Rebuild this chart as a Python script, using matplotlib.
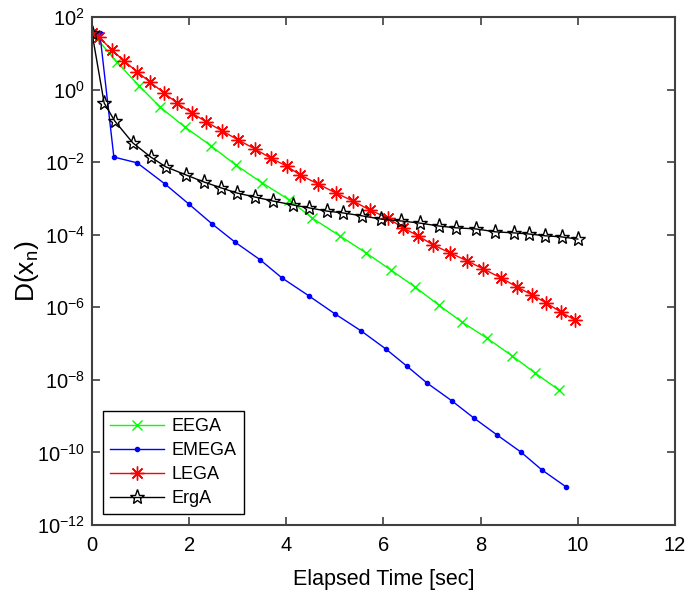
import matplotlib
matplotlib.use('Agg')
import matplotlib.pyplot as plt
import numpy as np

plt.rcParams['font.family'] = ['Liberation Sans', 'DejaVu Sans']
plt.rcParams['mathtext.fontset'] = 'custom'
plt.rcParams['mathtext.rm'] = 'Liberation Sans'

# elapsed time [sec] and log10 of D(x_n)
eega_t = [0.0, 0.51, 0.97, 1.40, 1.91, 2.45, 2.96, 3.50, 4.06, 4.53, 5.10, 5.64,
          6.15, 6.65, 7.14, 7.62, 8.13, 8.65, 9.12, 9.61]
eega_log = [1.56, 0.76, 0.10, -0.48, -1.03, -1.55, -2.08, -2.57, -3.04, -3.54, -4.03,
            -4.50, -4.97, -5.44, -5.94, -6.41, -6.85, -7.34, -7.81, -8.28]

emega_t = [0.0, 0.16, 0.45, 0.93, 1.50, 1.99, 2.47, 2.94, 3.46, 3.91, 4.47, 5.00,
           5.54, 6.05, 6.48, 6.90, 7.41, 7.86, 8.34, 8.83, 9.26, 9.76]
emega_log = [1.56, 1.56, -1.86, -2.02, -2.60, -3.15, -3.70, -4.20, -4.69, -5.19, -5.69,
             -6.18, -6.65, -7.15, -7.62, -8.09, -8.58, -9.05, -9.52, -9.99, -10.48, -10.95]

lega_t = [0.0, 0.14, 0.41, 0.66, 0.93, 1.19, 1.48, 1.75, 2.06, 2.35, 2.68, 3.01, 3.36,
          3.68, 4.01, 4.28, 4.65, 5.02, 5.37, 5.72, 6.09, 6.40, 6.71, 7.02, 7.37, 7.72,
          8.05, 8.42, 8.75, 9.06, 9.35, 9.65, 9.94]
lega_log = [1.56, 1.45, 1.09, 0.79, 0.49, 0.21, -0.09, -0.37, -0.65, -0.89, -1.14, -1.39,
            -1.64, -1.89, -2.11, -2.35, -2.60, -2.85, -3.07, -3.32, -3.54, -3.81, -4.03,
            -4.28, -4.50, -4.72, -4.94, -5.19, -5.44, -5.66, -5.88, -6.13, -6.35]

erga_t = [0.0, 0.25, 0.47, 0.84, 1.21, 1.52, 1.93, 2.31, 2.66, 2.98, 3.35, 3.72, 4.14,
          4.47, 4.84, 5.17, 5.56, 5.95, 6.36, 6.75, 7.14, 7.49, 7.90, 8.30, 8.69, 9.00,
          9.33, 9.67, 10.00]
erga_log = [1.56, -0.37, -0.87, -1.47, -1.86, -2.13, -2.35, -2.55, -2.71, -2.85, -2.96,
            -3.07, -3.18, -3.26, -3.35, -3.40, -3.48, -3.57, -3.62, -3.68, -3.76, -3.81,
            -3.84, -3.92, -3.95, -3.98, -4.03, -4.06, -4.12]

xticks = [0, 2, 4, 6, 8, 10, 12]
yticks_exp = [2, 0, -2, -4, -6, -8, -10, -12]

fig = plt.figure(figsize=(6.85, 5.96), dpi=100)
ax = fig.add_axes([0.1343, 0.1191, 0.851, 0.8524])

ax.semilogy(eega_t, 10.0 ** np.array(eega_log), color=(0, 1, 0), lw=1.0,
            marker='x', ms=7, mew=1.0, label='EEGA')
ax.semilogy(emega_t, 10.0 ** np.array(emega_log), color=(0, 0, 1), lw=1.0,
            marker='.', ms=6, label='EMEGA')
ax.semilogy(lega_t, 10.0 ** np.array(lega_log), color=(1, 0, 0), lw=1.0,
            marker=(8, 2, 0), ms=10, mew=1.0, label='LEGA')
ax.semilogy(erga_t, 10.0 ** np.array(erga_log), color='black', lw=1.0,
            marker='*', ms=11, mfc='none', mec='black', mew=1.0, label='ErgA')

ax.set_xlim(0, 12)
ax.set_ylim(1e-12, 1e2)
ax.set_xticks(xticks)
ax.set_yticks([10.0 ** e for e in yticks_exp])
ax.yaxis.set_minor_locator(matplotlib.ticker.NullLocator())
ax.tick_params(which='both', direction='in', top=True, right=True,
               length=6, width=1.2, color='#404040', labelsize=14.5)
ax.tick_params(axis='x', pad=8)
ax.tick_params(axis='y', pad=5)
for s in ax.spines.values():
    s.set_color('#404040')
    s.set_linewidth(1.5)

ax.set_xlabel('Elapsed Time [sec]', fontsize=15.5)
ax.xaxis.set_label_coords(0.5, -0.087)
ax.set_ylabel(r'D(x$_\mathrm{n}$)', fontsize=19)
ax.yaxis.set_label_coords(-0.088, 0.5)

leg = ax.legend(loc='lower left', fontsize=13, handlelength=3.0, fancybox=False,
                edgecolor='black', framealpha=1, borderaxespad=0.6,
                labelspacing=0.38, handletextpad=0.4, borderpad=0.4)
leg.get_frame().set_linewidth(1.0)

fig.savefig('out.png', dpi=100)
